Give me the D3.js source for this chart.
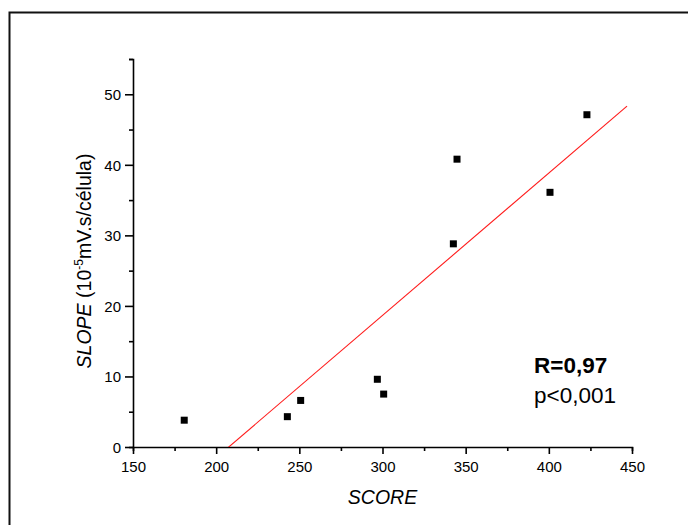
<!DOCTYPE html>
<html>
<head>
<meta charset="utf-8">
<script src="https://cdn.jsdelivr.net/npm/d3@7"></script>
<style>
  html, body { margin: 0; padding: 0; background: #fff; }
  svg text { font-family: Arial, "Liberation Sans", Helvetica, sans-serif; fill: #000; }
</style>
</head>
<body>
<div id="chart"></div>
<script>
// SCORE vs SLOPE
var scores = [180.8, 242.8, 250.8, 296.9, 300.7, 342.6, 344.8, 400.7, 422.9];
var slopes = [3.8, 4.3, 6.6, 9.6, 7.5, 28.8, 40.8, 36.1, 47.1];
var xTicks = [150, 200, 250, 300, 350, 400, 450];
var yTicks = [0, 10, 20, 30, 40, 50];
var fitRange = [150, 447];
var statLabels = ['R=0,97', 'p<0,001'];

var width = 688, height = 525;
var margin = {left: 133, right: 56, top: 59, bottom: 78};

var svg = d3.select('#chart').append('svg')
    .attr('width', width)
    .attr('height', height);

// frame (only left and top edges are visible in the crop)
svg.append('path')
    .attr('d', 'M9.5,' + height + 'V12.5H' + width)
    .attr('fill', 'none')
    .attr('stroke', '#111')
    .attr('stroke-width', 2);

var x = d3.scaleLinear().domain([150, 450]).range([margin.left, width - margin.right]);
var y = d3.scaleLinear().domain([0, 55]).range([height - margin.bottom, margin.top]);

// x axis: major every 50, minor every 25
var xAxis = svg.append('g')
    .attr('transform', 'translate(0,' + y(0) + ')');
xAxis.call(d3.axisBottom(x).tickValues(d3.range(150, 451, 25)).tickSize(4).tickFormat(''));
xAxis.call(function (g) {
    g.selectAll('.tick').filter(function (d) { return xTicks.indexOf(d) >= 0; })
        .select('line').attr('y2', 7);
});
xAxis.selectAll('.tick').filter(function (d) { return xTicks.indexOf(d) >= 0; })
    .append('text')
    .attr('y', 25)
    .attr('text-anchor', 'middle')
    .style('font-size', '15px')
    .text(function (d) { return d; });

// y axis: major every 10, minor every 5
var yAxis = svg.append('g')
    .attr('transform', 'translate(' + x(150) + ',0)');
yAxis.call(d3.axisLeft(y).tickValues(d3.range(0, 56, 5)).tickSize(4).tickFormat(''));
yAxis.selectAll('.tick').filter(function (d) { return yTicks.indexOf(d) >= 0; })
    .select('line').attr('x2', -8);
yAxis.selectAll('.tick').filter(function (d) { return yTicks.indexOf(d) >= 0; })
    .append('text')
    .attr('x', -12)
    .attr('dy', '0.35em')
    .attr('text-anchor', 'end')
    .style('font-size', '15px')
    .text(function (d) { return d; });

[xAxis, yAxis].forEach(function (g) {
    g.select('.domain').attr('stroke', '#000').attr('stroke-width', 1.6);
    g.selectAll('.tick line').attr('stroke', '#000').attr('stroke-width', 1.6);
});

// least squares fit through the points
var mx = d3.mean(scores), my = d3.mean(slopes);
var sxy = d3.sum(scores, function (s, i) { return (s - mx) * (slopes[i] - my); });
var sxx = d3.sum(scores, function (s) { return (s - mx) * (s - mx); });
var b = sxy / sxx, a = my - b * mx;

svg.append('clipPath').attr('id', 'plotClip')
    .append('rect')
    .attr('x', x(150)).attr('y', y(55))
    .attr('width', x(450) - x(150)).attr('height', y(0) - y(55));

svg.append('line')
    .attr('clip-path', 'url(#plotClip)')
    .attr('x1', x(fitRange[0])).attr('y1', y(a + b * fitRange[0]))
    .attr('x2', x(fitRange[1])).attr('y2', y(a + b * fitRange[1]))
    .attr('stroke', '#ff1a1a')
    .attr('stroke-width', 1.1);

// points
var sq = 7;
svg.append('g').selectAll('rect')
    .data(scores)
    .join('rect')
    .attr('x', function (d) { return x(d) - sq / 2; })
    .attr('y', function (d, i) { return y(slopes[i]) - sq / 2; })
    .attr('width', sq)
    .attr('height', sq)
    .attr('fill', '#000');

// axis titles
svg.append('text')
    .attr('x', (x(150) + x(450)) / 2)
    .attr('y', 504)
    .attr('text-anchor', 'middle')
    .style('font-size', '19.5px')
    .style('font-style', 'italic')
    .text('SCORE');

var yt = svg.append('text')
    .attr('transform', 'translate(91,' + ((y(0) + y(55)) / 2 + 8) + ') rotate(-90)')
    .attr('text-anchor', 'middle')
    .style('font-size', '19.5px');
yt.append('tspan').style('font-style', 'italic').text('SLOPE');
yt.append('tspan').text(' (10');
yt.append('tspan').attr('dy', -8).style('font-size', '12px').text('-5');
yt.append('tspan').attr('dy', 8).text('mV.s/célula)');

// statistics
svg.append('text')
    .attr('x', 534).attr('y', 373)
    .style('font-size', '22.5px')
    .style('font-weight', 'bold')
    .text(statLabels[0]);
svg.append('text')
    .attr('x', 534).attr('y', 403)
    .style('font-size', '22.5px')
    .text(statLabels[1]);
</script>
</body>
</html>
